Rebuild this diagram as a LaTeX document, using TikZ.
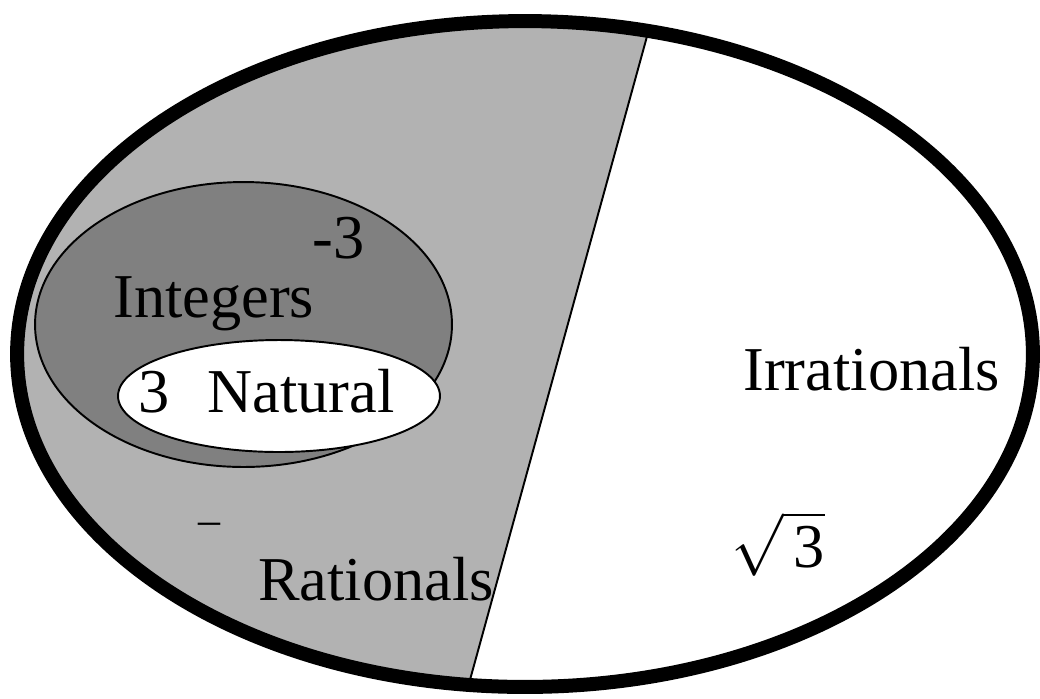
\RequirePackage{fix-cm}
\documentclass[tikz,border=0pt]{standalone}
\usepackage{fontspec}
\setmainfont{Liberation Serif}
\usetikzlibrary{positioning}

\begin{document}
\begin{tikzpicture}[x=0.02cm,y=-0.02cm]
\tikzstyle{lbl}=[inner sep=0pt,anchor=base west,font=\fontsize{35.5}{40}\selectfont]
\tikzstyle{set}=[draw,line width=1.1pt]
\useasboundingbox (0,0) rectangle (1040,698);
\coordinate (c) at (525,354);
\coordinate (ltop) at (657,0);
\coordinate (lbot) at (465,698);
\begin{scope}
\clip (c) ellipse [x radius=10.16cm,y radius=6.66cm];
\fill[black!30] (0,0) -- (ltop) -- (lbot) -- (0,698) -- cycle;
\draw[line width=1.1pt] (ltop) -- (lbot);
\end{scope}
\draw[set,fill=black!50] (243.5,324.5) ellipse [x radius=4.17cm,y radius=2.85cm];
\draw[set,fill=white] (279,396) ellipse [x radius=3.22cm,y radius=1.12cm];
\draw[line width=0.28cm] (c) ellipse [x radius=10.16cm,y radius=6.66cm];
\node[lbl] (m3) at (312,258) {-3};
\node[lbl] (int) at (113,317) {Integers};
\node[lbl] (n3) at (138,412) {3};
\node[lbl] (nat) at (207,412) {Natural};
\node[lbl] (irr) at (743,390) {Irrationals};
\node[lbl] (rat) at (258,600) {Rationals};
\node[inner sep=0pt,anchor=base,font=\fontsize{25}{28}\selectfont] (dash) at (209,534) {–};
\node[lbl] (sq3) at (731,567) {$\sqrt{\mbox{\,3}}$};
\end{tikzpicture}
\end{document}
